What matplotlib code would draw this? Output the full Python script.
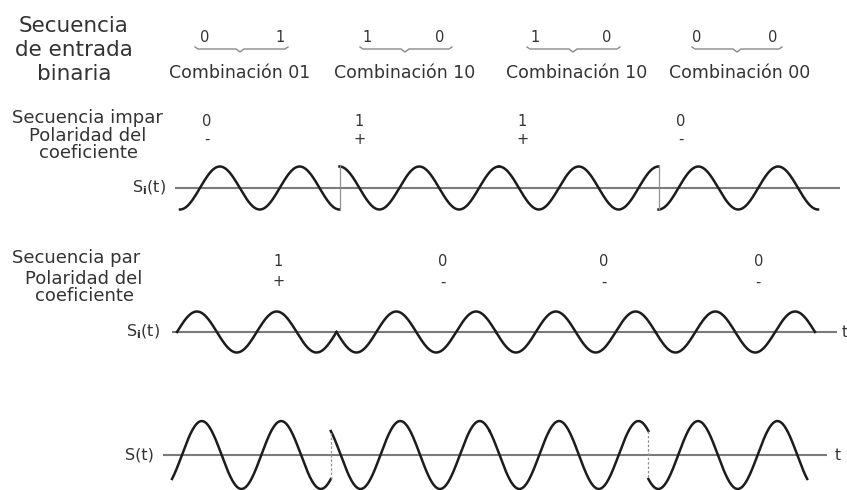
import numpy as np
import matplotlib
matplotlib.use("Agg")
import matplotlib.pyplot as plt
from matplotlib.lines import Line2D

# ---------------- data ----------------
input_bits = ["0", "1", "1", "0", "1", "0", "0", "0"]
combinations = ["Combinación 01", "Combinación 10", "Combinación 10", "Combinación 00"]
odd_bits = ["0", "1", "1", "0"]          # I channel (secuencia impar)
odd_pol = ["-", "+", "+", "-"]
even_bits = ["1", "0", "0", "0"]         # Q channel (secuencia par)
even_pol = ["+", "-", "-", "-"]
odd_label_t = [0.34, 2.25, 4.29, 6.28]   # label positions along t (bit-time units)
even_label_t = [1.27, 3.33, 5.35, 7.29]
bit_len = 2.0                            # each I/Q bit lasts 2 carrier periods

W, H = 847, 490
fig = plt.figure(figsize=(W / 100, H / 100), dpi=100)
TXT = "#333333"
WAVE = "#1c1c1c"
AXC = "#7a7a7a"
plt.rcParams["font.family"] = ["DejaVu Sans"]


def fx(x):
    return x / W


def fy(y):
    return 1 - y / H


def make_axes(x0, scale, yc, amp):
    ax = fig.add_axes([0, 0, 1, 1])
    ax.set_xlim((0 - x0) / scale, (W - x0) / scale)
    ax.set_ylim(-(H - yc) / amp, yc / amp)
    ax.axis("off")
    ax.patch.set_alpha(0)
    return ax


def pol_val(p):
    return 1.0 if p == "+" else -1.0


# ---------------- top: binary input ----------------
fig.text(fx(74), fy(50), "Secuencia\nde entrada\nbinaria", ha="center", va="center",
         fontsize=15.5, color=TXT, linespacing=1.25)

digit_x = [205, 280, 367, 440, 535, 607, 697, 773]
for xd, b in zip(digit_x, input_bits):
    fig.text(fx(xd), fy(38), b, ha="center", va="center", fontsize=10.5, color=TXT)

bracket = [(195, 288, 240), (360, 452, 405), (527, 620, 573), (692, 782, 737)]
for (x1, x2, xc) in bracket:
    xs = [x1, x1 + 3, xc - 4, xc, xc + 4, x2 - 3, x2]
    ys = [47, 49, 49, 52, 49, 49, 47]
    fig.add_artist(Line2D([fx(v) for v in xs], [fy(v) for v in ys],
                          color="#8a8a8a", lw=1.0))

comb_x = [240, 405, 577, 740]
for xc, c in zip(comb_x, combinations):
    fig.text(fx(xc), fy(73), c, ha="center", va="center", fontsize=12.5, color=TXT)

# ---------------- row 1: odd sequence ----------------
fig.text(fx(12), fy(118), "Secuencia impar", ha="left", va="center", fontsize=13, color=TXT)
fig.text(fx(88), fy(136), "Polaridad del", ha="center", va="center", fontsize=13, color=TXT)
fig.text(fx(88), fy(153), "coeficiente", ha="center", va="center", fontsize=13, color=TXT)

ax1 = make_axes(180, 79.75, 188, 21.5)
ax1.plot([(175 - 180) / 79.75, (840 - 180) / 79.75], [0, 0], color=AXC, lw=1.5,
         solid_capstyle="butt")
for k, p in enumerate(odd_pol):
    t = np.linspace(k * bit_len, (k + 1) * bit_len, 300)
    ax1.plot(t, pol_val(p) * np.cos(2 * np.pi * t), color=WAVE, lw=1.8)
    if k > 0 and odd_pol[k] != odd_pol[k - 1]:
        ax1.plot([k * bit_len, k * bit_len], [-1, 1], color="#909090", lw=0.9)
for tl, b, p in zip(odd_label_t, odd_bits, odd_pol):
    fig.text(fx(180 + 79.75 * tl), fy(121), b, ha="center", va="center", fontsize=10.5, color=TXT)
    fig.text(fx(180 + 79.75 * tl), fy(139), p, ha="center", va="center", fontsize=10.5, color=TXT)
fig.text(fx(166), fy(188), r"S$_{\mathbf{i}}$(t)", ha="right", va="center", fontsize=11.5, color=TXT)

# ---------------- row 2: even sequence ----------------
fig.text(fx(12), fy(258), "Secuencia par", ha="left", va="center", fontsize=13, color=TXT)
fig.text(fx(84), fy(279), "Polaridad del", ha="center", va="center", fontsize=13, color=TXT)
fig.text(fx(84), fy(296), "coeficiente", ha="center", va="center", fontsize=13, color=TXT)

ax2 = make_axes(177, 79.75, 332, 20.5)
ax2.plot([(172 - 177) / 79.75, (837 - 177) / 79.75], [0, 0], color=AXC, lw=1.5,
         solid_capstyle="butt")
for k, p in enumerate(even_pol):
    t = np.linspace(k * bit_len, (k + 1) * bit_len, 300)
    ax2.plot(t, pol_val(p) * np.sin(2 * np.pi * t), color=WAVE, lw=1.8)
for tl, b, p in zip(even_label_t, even_bits, even_pol):
    fig.text(fx(177 + 79.75 * tl), fy(262), b, ha="center", va="center", fontsize=10.5, color=TXT)
    fig.text(fx(177 + 79.75 * tl), fy(282), p, ha="center", va="center", fontsize=10.5, color=TXT)
fig.text(fx(160), fy(332), r"S$_{\mathbf{i}}$(t)", ha="right", va="center", fontsize=11.5, color=TXT)
fig.text(fx(845), fy(332), "t", ha="center", va="center", fontsize=11, color=TXT)

# ---------------- row 3: combined signal ----------------
ax3 = make_axes(172, 79.4, 455, 24.0)
ax3.plot([(163 - 172) / 79.4, (827 - 172) / 79.4], [0, 0], color=AXC, lw=1.5,
         solid_capstyle="butt")
for k in range(len(odd_pol)):
    t = np.linspace(k * bit_len, (k + 1) * bit_len, 300)
    s = pol_val(odd_pol[k]) * np.cos(2 * np.pi * t) + pol_val(even_pol[k]) * np.sin(2 * np.pi * t)
    ax3.plot(t, s, color=WAVE, lw=1.8)
    if k > 0:
        tb = k * bit_len
        s_prev = pol_val(odd_pol[k - 1]) * np.cos(2 * np.pi * tb) + pol_val(even_pol[k - 1]) * np.sin(2 * np.pi * tb)
        s_now = pol_val(odd_pol[k]) * np.cos(2 * np.pi * tb) + pol_val(even_pol[k]) * np.sin(2 * np.pi * tb)
        if abs(s_prev - s_now) > 1e-6:
            ax3.plot([tb, tb], [s_prev, s_now], color="#909090", lw=0.9, ls=(0, (2, 1.5)))
fig.text(fx(154), fy(455), "S(t)", ha="right", va="center", fontsize=11.5, color=TXT)
fig.text(fx(838), fy(455), "t", ha="center", va="center", fontsize=11, color=TXT)

fig.savefig("out.png", dpi=100, facecolor="white")
